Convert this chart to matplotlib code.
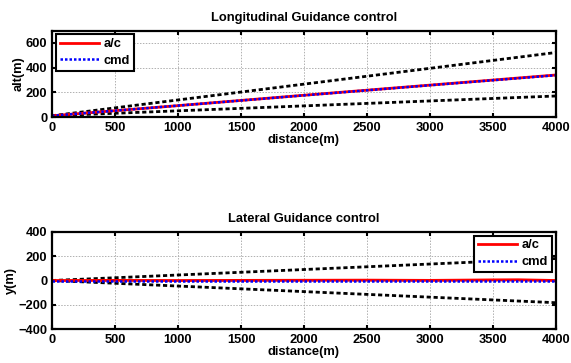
import matplotlib
matplotlib.use("Agg")
import matplotlib.pyplot as plt
import numpy as np

# ---- data ----
dist_env = [0, 4000]
alt_upper = [10, 522]
alt_lower = [10, 170]
dist_alt = [0, 1000, 2000, 3000, 4000]
alt_ac = [10, 92, 176, 258, 340]
alt_cmd = [10, 92, 175, 257, 338]

y_upper = [0, 180]
y_lower = [0, -182]
dist_lat = [0, 500, 1000, 1500, 2000, 2500, 3000, 3500, 3700, 4000]
y_ac = [0, 1, 0, 1, 2, 3, 1, 5, 6, 0]
y_cmd = [0, 0, 0, 0, 0, 0, 0, 0, 0, 0]

xticks = [0, 500, 1000, 1500, 2000, 2500, 3000, 3500, 4000]

FS = 9.3
plt.rcParams['font.family'] = ['Liberation Sans', 'DejaVu Sans']
plt.rcParams['font.weight'] = 'bold'
plt.rcParams['font.size'] = FS

fig = plt.figure(figsize=(5.71, 3.63), dpi=100)
W, H = 571, 363
ax1 = fig.add_axes([52 / W, 1 - 117 / H, (556 - 52) / W, (117 - 30.5) / H])
ax2 = fig.add_axes([52 / W, 1 - 329.3 / H, (556 - 52) / W, (329.3 - 231.7) / H])

def style(ax):
    ax.grid(True, color='#b0b0b0', linestyle=(0, (1.5, 1.5)), linewidth=0.7)
    ax.tick_params(direction='in', top=True, right=True, length=3, width=1.5,
                   labelsize=FS, pad=3.5)
    for s in ax.spines.values():
        s.set_linewidth(1.6)
    for lab in ax.get_xticklabels() + ax.get_yticklabels():
        lab.set_fontweight('bold')
    ax.set_xlim(0, 4000)
    ax.set_xticks(xticks)
    ax.set_xlabel('distance(m)', fontweight='bold', fontsize=FS, labelpad=0)

# top
ax1.plot(dist_env, alt_upper, color='black', linestyle=(0, (1.5, 1)), linewidth=2)
ax1.plot(dist_env, alt_lower, color='black', linestyle=(0, (1.5, 1)), linewidth=2)
ax1.plot(dist_alt, alt_ac, color='red', linewidth=2, label='a/c')
ax1.plot(dist_alt, alt_cmd, color='blue', linestyle=(0, (1, 0.8)), linewidth=1.8, label='cmd')
ax1.set_ylim(0, 700)
ax1.set_yticks([0, 200, 400, 600])
ax1.set_ylabel('alt(m)', fontweight='bold', fontsize=FS, labelpad=1)
ax1.set_title('Longitudinal Guidance control', fontweight='bold', fontsize=FS, pad=7)
style(ax1)
leg1 = ax1.legend(loc='upper left', fancybox=False, edgecolor='black', framealpha=1,
                  borderaxespad=0.3, handlelength=3.0, fontsize=FS,
                  labelspacing=0.35, borderpad=0.3, handletextpad=0.4)
leg1.get_frame().set_linewidth(1.5)

# bottom
ax2.plot(dist_env, y_upper, color='black', linestyle=(0, (1.5, 1)), linewidth=2)
ax2.plot(dist_env, y_lower, color='black', linestyle=(0, (1.5, 1)), linewidth=2)
ax2.plot(dist_lat, y_ac, color='red', linewidth=2, label='a/c')
ax2.plot(dist_lat, y_cmd, color='blue', linestyle=(0, (1, 0.8)), linewidth=1.8, label='cmd')
ax2.set_ylim(-400, 400)
ax2.set_yticks([-400, -200, 0, 200, 400])
ax2.set_ylabel('y(m)', fontweight='bold', fontsize=FS, labelpad=1)
ax2.set_title('Lateral Guidance control', fontweight='bold', fontsize=FS, pad=7)
style(ax2)
leg2 = ax2.legend(loc='upper right', fancybox=False, edgecolor='black', framealpha=1,
                  borderaxespad=0.3, handlelength=3.0, fontsize=FS,
                  labelspacing=0.35, borderpad=0.3, handletextpad=0.4)
leg2.get_frame().set_linewidth(1.5)

fig.savefig('out.png', dpi=100)
